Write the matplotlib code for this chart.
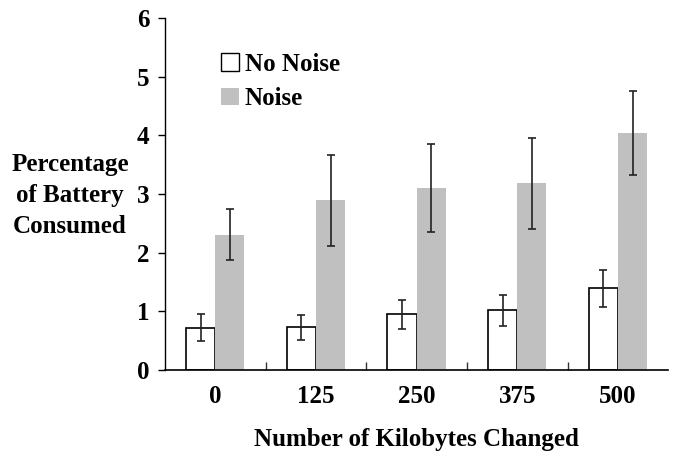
import matplotlib.pyplot as plt
import numpy as np

kilobytes = ["0", "125", "250", "375", "500"]
no_noise = [0.72, 0.73, 0.95, 1.02, 1.39]
no_noise_low = [0.50, 0.52, 0.70, 0.75, 1.07]
no_noise_high = [0.95, 0.93, 1.20, 1.28, 1.70]
noise = [2.30, 2.90, 3.10, 3.19, 4.04]
noise_low = [1.88, 2.12, 2.35, 2.40, 3.32]
noise_high = [2.74, 3.67, 3.86, 3.96, 4.76]

plt.rcParams['font.family'] = ['Liberation Serif', 'DejaVu Serif']
plt.rcParams['font.weight'] = 'bold'

fig = plt.figure(figsize=(6.73, 4.54), dpi=100, facecolor="white")
ax = fig.add_axes([0.245, 0.185, 0.748, 0.775])

x = np.arange(len(kilobytes))
w = 0.29

err_nn = [np.array(no_noise) - np.array(no_noise_low), np.array(no_noise_high) - np.array(no_noise)]
err_n = [np.array(noise) - np.array(noise_low), np.array(noise_high) - np.array(noise)]

ax.bar(x - w / 2, no_noise, w, color="white", edgecolor="black", linewidth=1.2, label="No Noise",
       yerr=err_nn, error_kw=dict(ecolor="#222222", elinewidth=1.2, capsize=3, capthick=1.2))
ax.bar(x + w / 2, noise, w, color="#c0c0c0", edgecolor="none", label="Noise",
       yerr=err_n, error_kw=dict(ecolor="#222222", elinewidth=1.2, capsize=3, capthick=1.2))

ax.set_xlim(-0.5, 4.5)
ax.set_ylim(0, 6)
ax.set_yticks(range(7))
ax.set_xticks(x)
ax.set_xticklabels(kilobytes, fontsize=18, fontweight="bold")
ax.set_xticks(x[:-1] + 0.5, minor=True)
ax.tick_params(axis="x", which="major", length=0, pad=11)
ax.tick_params(axis="x", which="minor", direction="in", length=6, width=1, color="#333333")
ax.tick_params(axis="y", direction="out", length=5, width=1, labelsize=18, pad=6)
for lab in ax.get_yticklabels():
    lab.set_fontweight("bold")

for s in ["top", "right"]:
    ax.spines[s].set_visible(False)
ax.spines["left"].set_linewidth(1)
ax.spines["bottom"].set_linewidth(1.2)

ax.set_xlabel("Number of Kilobytes Changed", fontsize=18, fontweight="bold", labelpad=14)
fig.text(0.104, 0.57, "Percentage\nof Battery\nConsumed", ha="center", va="center",
         fontsize=18, fontweight="bold", linespacing=1.45)

leg = ax.legend(loc="upper left", bbox_to_anchor=(0.092, 0.93), frameon=False, fontsize=18,
                handlelength=0.7, handleheight=0.7, handletextpad=0.25, labelspacing=0.45,
                borderaxespad=0)
for h in leg.legend_handles:
    h.set_linewidth(1)

plt.savefig("out.png", dpi=100)
